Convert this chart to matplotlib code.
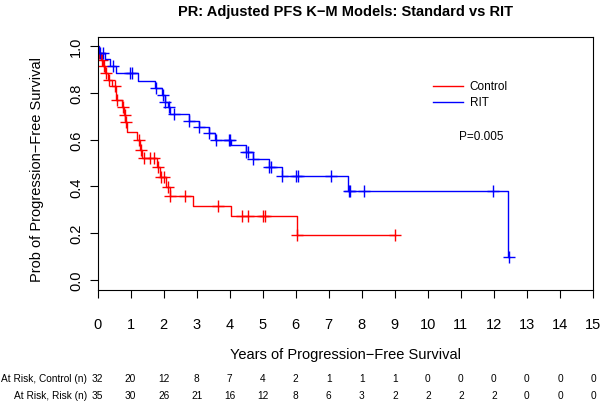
import numpy as np
import matplotlib
matplotlib.use("Agg")
import matplotlib.pyplot as plt

plt.rcParams['font.family'] = ['Liberation Sans', 'DejaVu Sans']

# ---- data ----
red_times = [0.03, 0.10, 0.17, 0.24, 0.32, 0.45, 0.55, 0.75, 0.80, 0.84, 0.88,
             1.20, 1.30, 1.36, 1.80, 1.88, 2.08, 2.18, 2.89, 4.05, 6.05]
red_surv = [0.969, 0.941, 0.916, 0.884, 0.856, 0.827, 0.770, 0.738, 0.706, 0.673, 0.634,
            0.598, 0.556, 0.520, 0.484, 0.441, 0.398, 0.357, 0.316, 0.273, 0.194]
red_cens = [0.06, 0.14, 0.21, 0.27, 0.36, 0.52, 0.60, 0.78, 0.82, 0.86, 1.25, 1.33,
            1.42, 1.58, 1.72, 1.83, 1.93, 2.00, 2.13, 2.20, 2.64, 3.65, 4.38, 4.55,
            5.00, 5.06, 6.05, 9.00]
red_end = 9.0

blue_times = [0.05, 0.22, 0.37, 0.55, 1.23, 1.73, 1.96, 2.03, 2.13, 2.20, 2.77,
              3.07, 3.37, 3.55, 4.05, 4.50, 4.70, 5.20, 5.60, 7.58, 12.43]
blue_surv = [0.971, 0.943, 0.914, 0.886, 0.852, 0.820, 0.791, 0.762, 0.738, 0.709, 0.679,
             0.655, 0.630, 0.598, 0.578, 0.548, 0.515, 0.484, 0.443, 0.379, 0.097]
blue_cens = [0.07, 0.17, 0.47, 0.98, 1.03, 1.78, 1.98, 2.05, 2.15, 2.33, 2.77, 3.07,
             3.37, 3.60, 3.98, 4.02, 4.50, 4.55, 4.72, 5.20, 5.25, 5.60, 6.02, 6.07,
             7.08, 7.60, 7.63, 8.06, 11.98, 12.45]
blue_end = 12.45

years = list(range(0, 16))
risk_control = [32, 20, 12, 8, 7, 4, 2, 1, 1, 1, 0, 0, 0, 0, 0, 0]
risk_rit = [35, 30, 26, 21, 16, 12, 8, 6, 3, 2, 2, 2, 2, 0, 0, 0]

title = "PR: Adjusted PFS K\u2212M Models: Standard vs RIT"
xlabel = "Years of Progression\u2212Free Survival"
ylabel = "Prob of Progression\u2212Free Survival"


def surv_at(t, times, surv):
    s = 1.0
    for ti, si in zip(times, surv):
        if ti <= t:
            s = si
    return s


TOP, BOT, LEFT, RIGHT = 37.5, 290.5, 97.5, 593.0
fig = plt.figure(figsize=(6, 4.02), dpi=100)
ax = fig.add_axes([LEFT/600, 1-BOT/402, (RIGHT-LEFT)/600, (BOT-TOP)/402])

for times, surv, cens, end, col in [(red_times, red_surv, red_cens, red_end, 'red'),
                                    (blue_times, blue_surv, blue_cens, blue_end, 'blue')]:
    xs = [0.0] + list(times) + [end]
    ys = [1.0] + list(surv) + [surv[-1]]
    ax.step(xs, ys, where='post', color=col, lw=1.0)
    cy = [surv_at(c, times, surv) for c in cens]
    ax.plot(cens, cy, linestyle='none', marker='+', color=col, markersize=8, mew=1.0)

ax.set_xlim(0, 15)
ax.set_ylim(-0.04, 1.04)
ax.set_xticks(years)
ax.set_yticks([0.0, 0.2, 0.4, 0.6, 0.8, 1.0])
ax.set_yticklabels(["0.0", "0.2", "0.4", "0.6", "0.8", "1.0"], rotation=90, va='center')
ax.tick_params(direction='out', length=5.5, width=0.8, labelsize=10.5)
ax.tick_params(axis='x', pad=14)
ax.tick_params(axis='y', pad=5)
for sp in ax.spines.values():
    sp.set_linewidth(0.8)

# legend (manual, borderless)
ax.plot([10.15, 11.05], [0.83, 0.83], color='red', lw=1.0)
ax.plot([10.15, 11.05], [0.762, 0.762], color='blue', lw=1.0)
ax.text(11.27, 0.83, "Control", fontsize=8.5, va='center', ha='left')
ax.text(11.27, 0.762, "RIT", fontsize=8.5, va='center', ha='left')
ax.text(10.95, 0.615, "P=0.005", fontsize=8.5, va='center', ha='left')

fig.text(345/600, 1-12/402, title, fontsize=10.5, fontweight='bold', ha='center', va='center')
fig.text(37/600, 1-170/402, ylabel, fontsize=10.5, rotation=90, ha='center', va='center')
fig.text(345/600, 1-355/402, xlabel, fontsize=10.5, ha='center', va='center')

# at-risk table
for yfig, lab, vals in [(1-379/402, "At Risk, Control (n)", risk_control),
                        (1-396/402, "At Risk, Risk (n)", risk_rit)]:
    fig.text(87/600, yfig, lab, fontsize=7.3, ha='right', va='center')
    for x, v in zip(years, vals):
        xf = (LEFT + (RIGHT - LEFT) / 15 * x) / 600
        fig.text(xf, yfig, str(v), fontsize=7.3, ha='center', va='center')

fig.savefig("out.png", dpi=100)
